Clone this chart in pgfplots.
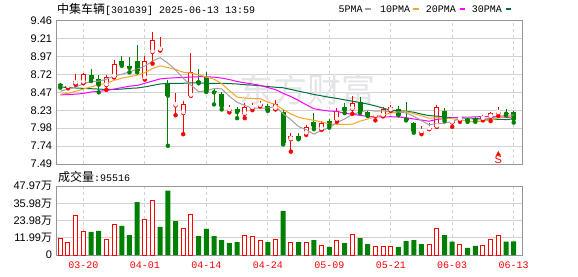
\documentclass[border=0pt]{standalone}
\usepackage{pgfplots}
\pgfplotsset{compat=1.18}
\usepackage{pgfplotstable}
\usepackage{fontspec}
\setmainfont{Liberation Sans}
\newfontfamily\cjk{Noto Sans CJK SC}
\newfontfamily\mono{Liberation Mono}
\definecolor{kred}{RGB}{255,0,0}
\definecolor{kgreen}{RGB}{0,128,0}
\definecolor{ma5}{RGB}{160,160,160}
\definecolor{ma10}{RGB}{245,166,35}
\definecolor{ma20}{RGB}{255,0,255}
\definecolor{ma30}{RGB}{0,112,60}
\definecolor{gridc}{RGB}{210,210,210}
\definecolor{framec}{RGB}{150,150,150}
\definecolor{wmark}{RGB}{228,228,232}

% red (rising) candles: x open high low close
\pgfplotstableread{
x o h l c
1 8.550 8.575 8.530 8.565
2 8.600 8.730 8.580 8.630
3 8.610 8.740 8.600 8.725
6 8.575 8.710 8.510 8.680
7 8.690 8.920 8.680 8.860
11 8.670 8.980 8.650 8.900
12 9.030 9.300 8.870 9.200
13 9.060 9.240 9.050 9.080
15 8.295 8.470 8.160 8.310
16 8.190 8.360 7.900 8.310
17 8.430 9.020 8.430 8.750
22 8.230 8.300 8.200 8.245
24 8.180 8.330 8.120 8.280
25 8.260 8.330 8.230 8.275
26 8.290 8.350 8.280 8.310
28 8.250 8.370 8.240 8.310
30 7.830 7.910 7.660 7.870
32 7.910 8.030 7.890 8.000
34 7.970 8.080 7.960 8.060
36 8.100 8.260 8.070 8.225
38 8.250 8.430 8.180 8.335
41 8.150 8.190 8.090 8.165
42 8.155 8.280 8.145 8.245
43 8.230 8.300 8.220 8.280
47 7.930 8.010 7.900 7.945
48 7.970 8.050 7.970 7.990
49 8.005 8.300 8.000 8.270
51 8.060 8.100 8.000 8.075
52 8.100 8.140 8.070 8.115
55 8.110 8.160 8.090 8.140
56 8.140 8.210 8.080 8.190
57 8.190 8.270 8.150 8.205
}\redK

% green (falling) candles: x open high low close
\pgfplotstableread{
x o h l c
0 8.590 8.610 8.540 8.570
4 8.720 8.790 8.630 8.657
5 8.652 8.710 8.475 8.580
8 8.900 8.980 8.840 8.852
9 8.834 8.960 8.750 8.811
10 8.900 9.120 8.750 8.770
14 8.590 8.650 7.740 8.430
18 8.630 8.790 8.600 8.615
19 8.680 8.750 8.480 8.490
20 8.500 8.530 8.310 8.475
21 8.457 8.484 8.240 8.285
23 8.244 8.270 8.120 8.203
27 8.290 8.310 8.220 8.230
29 8.210 8.230 7.760 7.780
31 7.870 7.910 7.830 7.840
33 8.070 8.190 7.970 8.010
35 8.080 8.110 7.990 8.020
37 8.280 8.330 8.190 8.230
39 8.345 8.410 8.190 8.200
40 8.205 8.220 8.150 8.160
44 8.240 8.290 8.160 8.170
45 8.120 8.340 8.090 8.100
46 8.050 8.070 7.920 7.940
50 8.220 8.260 8.080 8.110
53 8.110 8.130 8.070 8.090
54 8.105 8.130 8.070 8.090
58 8.195 8.240 8.160 8.180
59 8.210 8.220 8.060 8.110
}\greenK

% moving averages
\pgfplotstableread{
x m5 m10 m20 m30
0 8.490 8.450 8.440 8.550
1 8.520 8.460 8.445 8.540
2 8.550 8.490 8.450 8.535
3 8.590 8.520 8.460 8.530
4 8.626 8.550 8.480 8.525
5 8.628 8.580 8.490 8.520
6 8.655 8.600 8.500 8.515
7 8.700 8.640 8.520 8.515
8 8.725 8.670 8.540 8.520
9 8.756 8.691 8.560 8.530
10 8.794 8.711 8.570 8.535
11 8.837 8.746 8.600 8.550
12 8.906 8.803 8.630 8.570
13 8.952 8.839 8.660 8.590
14 8.876 8.816 8.670 8.600
15 8.784 8.789 8.675 8.600
16 8.666 8.752 8.680 8.600
17 8.576 8.741 8.685 8.605
18 8.483 8.717 8.690 8.605
19 8.495 8.686 8.689 8.600
20 8.528 8.656 8.684 8.600
21 8.523 8.595 8.671 8.600
22 8.421 8.499 8.651 8.595
23 8.338 8.410 8.625 8.590
24 8.296 8.396 8.606 8.580
25 8.255 8.390 8.590 8.575
26 8.260 8.390 8.571 8.565
27 8.258 8.340 8.541 8.555
28 8.280 8.309 8.513 8.545
29 8.180 8.238 8.462 8.538
30 8.100 8.178 8.417 8.515
31 8.006 8.133 8.364 8.491
32 7.960 8.109 8.304 8.470
33 7.900 8.090 8.250 8.446
34 7.956 8.068 8.232 8.427
35 7.986 8.043 8.217 8.407
36 8.063 8.035 8.213 8.392
37 8.109 8.035 8.188 8.372
38 8.174 8.037 8.173 8.354
39 8.202 8.079 8.159 8.334
40 8.230 8.108 8.143 8.314
41 8.217 8.140 8.137 8.289
42 8.220 8.165 8.137 8.258
43 8.209 8.190 8.140 8.230
44 8.203 8.203 8.136 8.222
45 8.191 8.210 8.127 8.214
46 8.147 8.182 8.109 8.202
47 8.086 8.153 8.094 8.176
48 8.028 8.119 8.078 8.155
49 8.048 8.126 8.103 8.148
50 8.050 8.120 8.114 8.135
51 8.076 8.112 8.126 8.128
52 8.110 8.098 8.132 8.124
53 8.130 8.079 8.135 8.120
54 8.094 8.071 8.137 8.114
55 8.100 8.075 8.143 8.109
56 8.124 8.100 8.141 8.106
57 8.142 8.126 8.140 8.105
58 8.160 8.145 8.132 8.100
59 8.164 8.129 8.128 8.111
}\maT

% volume (10k shares)
\pgfplotstableread{
x v
0 11.6
1 9.0
2 27.6
3 16.4
6 10.9
7 21.3
11 24.8
12 38.0
16 18.5
17 28.5
24 13.7
25 13.0
26 10.2
28 10.9
30 9.0
32 9.0
34 6.7
36 10.2
38 14.4
41 6.0
42 6.0
43 6.0
48 7.6
49 18.5
52 7.6
55 6.7
56 10.9
57 13.7
}\redV
\pgfplotstableread{
x v
4 16.0
5 16.7
8 20.2
9 13.9
10 36.8
13 19.5
14 44.7
15 23.6
18 13.2
19 18.1
20 13.2
21 10.4
22 8.3
23 9.0
27 9.0
29 30.6
31 9.0
33 10.4
35 5.6
37 8.3
39 11.8
40 7.6
44 5.6
45 9.7
46 10.4
47 7.6
50 13.9
51 9.3
53 4.9
54 6.3
58 9.3
59 9.55
}\greenV

\pgfplotsset{
  kaxis/.style={
    scale only axis, width=466bp,
    xmin=-0.56, xmax=60.08,
    enlargelimits=false,
    axis line style={draw=framec, line width=1bp},
    tick style={draw=none},
    xtick={3,11,19,27,35,43,51,59},
    xmajorgrids, ymajorgrids,
    x grid style={draw=gridc, line width=0.8bp, dash pattern=on 3bp off 3bp},
    y grid style={draw=gridc, line width=0.8bp},
    yticklabel style={anchor=east, inner sep=0pt, xshift=-3.7bp,
      font=\fontsize{11bp}{13bp}\selectfont},
  },
}

\begin{document}
\begin{tikzpicture}[x=1bp,y=1bp]
\path[use as bounding box] (0,0) rectangle (578,276);

% title and legend
\node[anchor=west, inner sep=0pt] at (57,267)
  {\fontsize{12bp}{14bp}\cjk 中集车辆\fontsize{10bp}{12bp}\mono[301039] 2025-06-13 13:59};
\node[anchor=west, inner sep=0pt] at (338.3,267) {\fontsize{10bp}{12bp}\mono 5PMA};
\fill[ma5] (365,265.7) rectangle (371,268.2);
\node[anchor=west, inner sep=0pt] at (380,267) {\fontsize{10bp}{12bp}\mono 10PMA};
\fill[ma10] (413.3,265.7) rectangle (419,268.2);
\node[anchor=west, inner sep=0pt] at (425.7,267) {\fontsize{10bp}{12bp}\mono 20PMA};
\fill[ma20] (460,265.7) rectangle (465,268.2);
\node[anchor=west, inner sep=0pt] at (471.7,267) {\fontsize{10bp}{12bp}\mono 30PMA};
\fill[ma30] (506,265.7) rectangle (511,268.2);

% price panel
\begin{axis}[kaxis, at={(56bp,112bp)}, anchor=south west, height=143.3bp,
  ymin=7.49, ymax=9.46,
  xticklabels={},
  ytick={7.49,7.73625,7.9825,8.22875,8.475,8.72125,8.9675,9.21375,9.46},
  yticklabels={7.49,7.74,7.98,8.23,8.47,8.72,8.97,9.21,9.46},
]
\node[text=wmark, font=\fontsize{34bp}{36bp}\cjk] at (rel axis cs:0.54,0.52) {东方财富};

% red candles: wick, body, hollow
\addplot[kred, only marks, mark=none, forget plot,
  error bars/.cd, y dir=plus, y explicit, error mark=none,
  error bar style={draw=kred, line width=1bp}]
  table[x=x, y=l, y error plus expr=\thisrow{h}-\thisrow{l}] {\redK};
\addplot[kred, only marks, mark=none, forget plot,
  error bars/.cd, y dir=plus, y explicit, error mark=none,
  error bar style={draw=kred, line width=5bp}]
  table[x=x, y=o, y error plus expr=\thisrow{c}-\thisrow{o}] {\redK};
\addplot[white, only marks, mark=none, forget plot,
  error bars/.cd, y dir=plus, y explicit, error mark=none,
  error bar style={draw=white, line width=3bp}]
  table[x=x, y expr=\thisrow{o}+0.014, y error plus expr={max(\thisrow{c}-\thisrow{o}-0.028,0)}] {\redK};

% green candles: wick, body
\addplot[kgreen, only marks, mark=none, forget plot,
  error bars/.cd, y dir=plus, y explicit, error mark=none,
  error bar style={draw=kgreen, line width=1bp}]
  table[x=x, y=l, y error plus expr=\thisrow{h}-\thisrow{l}] {\greenK};
\addplot[kgreen, only marks, mark=none, forget plot,
  error bars/.cd, y dir=plus, y explicit, error mark=none,
  error bar style={draw=kgreen, line width=5bp}]
  table[x=x, y=c, y error plus expr=\thisrow{o}-\thisrow{c}] {\greenK};

\addplot[ma30, line width=1bp] table[x=x, y=m30] {\maT};
\addplot[ma20, line width=1bp] table[x=x, y=m20] {\maT};
\addplot[ma10, line width=1bp] table[x=x, y=m10] {\maT};
\addplot[ma5, line width=1bp] table[x=x, y=m5] {\maT};

\addplot[only marks, mark=triangle*, mark size=2.6bp, kred] coordinates {(57,7.625)};
\node[text=kred, inner sep=0pt, font=\fontsize{11bp}{13bp}\selectfont] at (axis cs:57,7.545) {S};
\end{axis}

\node[anchor=west, inner sep=0pt] at (58,99.3)
  {\fontsize{12bp}{14bp}\cjk 成交量\fontsize{10bp}{12bp}\mono :95516};

% volume panel
\begin{axis}[kaxis, at={(56bp,21bp)}, anchor=south west, height=69bp,
  ymin=0, ymax=47.97,
  ytick={0,11.9925,23.985,35.9775,47.97},
  yticklabels={0,11.99{\cjk 万},23.98{\cjk 万},35.98{\cjk 万},47.97{\cjk 万}},
  xticklabels={03-20,04-01,04-14,04-24,05-09,05-21,06-03,06-13},
  xticklabel style={anchor=north, inner sep=0pt, yshift=-6.5bp, text=kred,
    font=\fontsize{10bp}{12bp}\mono},
]
\addplot[ybar, bar width=4bp, bar shift=0pt, draw=kred, fill=white, line width=1bp] table[x=x, y=v] {\redV};
\addplot[ybar, bar width=5bp, bar shift=0pt, draw=none, fill=kgreen] table[x=x, y=v] {\greenV};
\end{axis}
\end{tikzpicture}
\end{document}
